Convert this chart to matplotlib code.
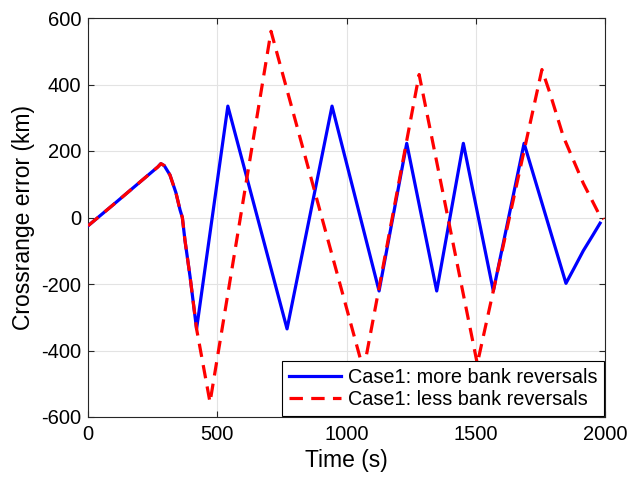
import matplotlib
matplotlib.use("Agg")
import matplotlib.pyplot as plt

plt.rcParams['font.family'] = ['Liberation Sans', 'DejaVu Sans']
plt.rcParams['axes.unicode_minus'] = False

# Case1: more bank reversals (blue)
t_more = [0, 100, 200, 270, 282, 295, 317, 340, 356, 365, 375, 395, 420,
          541, 770, 944, 1126, 1233, 1349, 1452, 1568, 1687, 1849,
          1880, 1916, 1950, 1981]
y_more = [-25, 40, 106, 152, 162, 156, 128, 75, 23, 0, -68, -179, -335,
          335, -335, 335, -221, 223, -221, 223, -221, 223, -198,
          -153, -100, -57, -17]

# Case1: less bank reversals (red)
t_less = [0, 100, 200, 270, 282, 295, 317, 340, 356, 365, 375, 395, 420,
          472, 708, 1066, 1281, 1506, 1756, 1787, 1839, 1916, 1977, 1995]
y_less = [-25, 40, 106, 152, 162, 156, 128, 75, 23, 0, -68, -179, -335,
          -556, 560, -460, 430, -440, 445, 374, 243, 103, 10, -5]

x_ticks = [0, 500, 1000, 1500, 2000]
y_ticks = [-600, -400, -200, 0, 200, 400, 600]

fig = plt.figure(figsize=(6.3, 4.8), dpi=100)
ax = fig.add_axes([88/630, 1-417/480, (605-88)/630, (417-18)/480])

ax.plot(t_more, y_more, color='#0000ff', lw=2.3, label='Case1: more bank reversals', zorder=3)
ax.plot(t_less, y_less, color='#ff0000', lw=2.3, ls=(0, (4.2, 2.6)),
        label='Case1: less bank reversals', zorder=3)

ax.set_xlim(0, 2000)
ax.set_ylim(-600, 600)
ax.set_xticks(x_ticks)
ax.set_yticks(y_ticks)
ax.grid(True, color='#e3e3e3', lw=0.8)
ax.set_axisbelow(True)
ax.tick_params(direction='in', top=True, right=True, labelsize=14.5, colors='#262626',
               labelcolor='black', length=4, width=0.8)
ax.tick_params(axis='x', pad=6)
ax.tick_params(axis='y', pad=5)
for s in ax.spines.values():
    s.set_color('#262626')
    s.set_linewidth(0.8)

ax.set_xlabel('Time (s)', fontsize=16.5, labelpad=3)
ax.set_ylabel('Crossrange error (km)', fontsize=16.5, labelpad=4)

leg = ax.legend(loc='lower right', fontsize=14.3, fancybox=False, framealpha=1,
                edgecolor='black', borderaxespad=0.05, handlelength=2.6,
                borderpad=0.35, labelspacing=0.15, handletextpad=0.35)
leg.get_frame().set_linewidth(0.8)

fig.savefig('out.png', dpi=100)
